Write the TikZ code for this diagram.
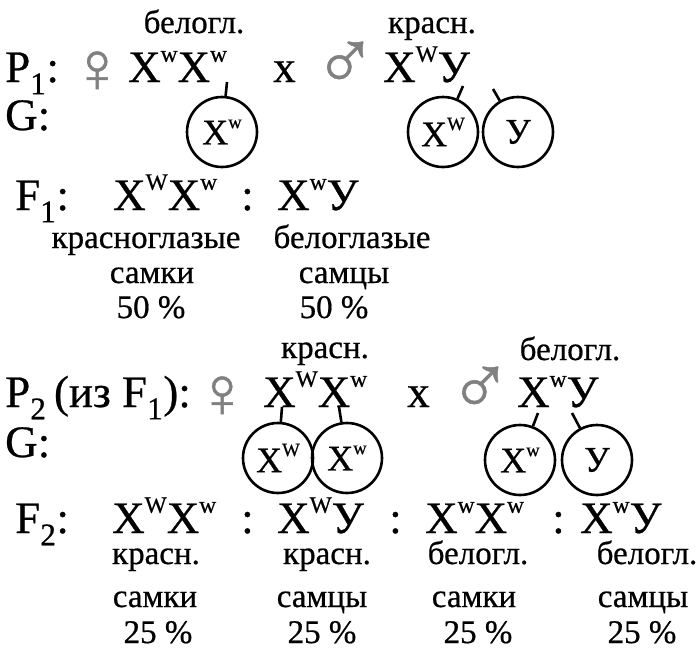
\documentclass[tikz,border=0pt]{standalone}
\usepackage{fontspec}
\setmainfont{Liberation Serif}[FakeBold=0.6]

\newcommand{\gensize}{\fontsize{45}{50}\selectfont}
\newcommand{\lblsize}{\fontsize{33}{36}\selectfont}
\newcommand{\gamsize}{\fontsize{36}{40}\selectfont}
\newcommand{\allele}[1]{\raisebox{0.45em}{\scalebox{0.52}{#1}}}
\newcommand{\XW}{X\allele{W}}
\newcommand{\Xw}{X\allele{w}}
\newcommand{\femsign}{\raisebox{-0.22em}{\scalebox{1.6}{♀}}}
\newcommand{\malsign}{\raisebox{-0.17em}{\scalebox{1.9}{♂}}}

\tikzset{
  gen/.style={anchor=base west, inner sep=0pt, font=\gensize},
  lbl/.style={anchor=base, inner sep=0pt, font=\lblsize},
  sex/.style={anchor=base west, inner sep=0pt, text=black!50, font=\gensize},
  gam/.style={draw, circle, line width=2.6pt, minimum size=70pt, inner sep=0pt, font=\gamsize},
  tick/.style={draw, line width=2.6pt}
}

\begin{document}
\begin{tikzpicture}[x=1pt,y=-1pt]
\useasboundingbox (0,0) rectangle (697,651);

% P1
\node[gen] (p1) at (5,82) {P\textsubscript{1}:};
\node[sex] (fem1) at (70,82) {\femsign};
\node[gen] (p1f) at (128,82) {\Xw\Xw};
\node[gen] (x1) at (273,82) {x};
\node[sex] (mal1) at (313,82) {\malsign};
\node[gen] (p1m) at (383,82) {\XW У};
\node[lbl] (p1fl) at (194,33) {белогл.};
\node[lbl] (p1ml) at (432,33) {красн.};

\node[gen] (g1) at (5,130) {G:};
\node[gam] (c1) at (222,132) {\Xw};
\node[gam] (c2) at (443,132) {\XW};
\node[gam] (c3) at (518,132) {У};
\coordinate (t1) at (227,82);
\coordinate (t2) at (463,86);
\coordinate (t3) at (493,89);
\path[tick] (t1) -- (c1);
\path[tick] (t2) -- (c2);
\path[tick] (t3) -- (c3);

% F1
\node[gen] (f1) at (15,210) {F\textsubscript{1}:};
\node[gen] (f1a) at (113,210) {\XW\Xw};
\node[gen] (f1s) at (241,210) {:};
\node[gen] (f1b) at (277,210) {\Xw У};
\node[lbl] (f1a1) at (146,248) {красноглазые};
\node[lbl] (f1b1) at (352,248) {белоглазые};
\node[lbl] (f1a2) at (152,283) {самки};
\node[lbl] (f1b2) at (344,283) {самцы};
\node[lbl] (f1a3) at (151,318) {50~\%};
\node[lbl] (f1b3) at (334,318) {50~\%};

% P2
\node[gen] (p2) at (5,407) {P\textsubscript{2}\,(из F\textsubscript{1}):};
\node[sex] (fem2) at (195,407) {\femsign};
\node[gen] (p2f) at (263,407) {\XW\Xw};
\node[gen] (x2) at (407,407) {x};
\node[sex] (mal2) at (448,407) {\malsign};
\node[gen] (p2m) at (517,407) {\Xw У};
\node[lbl] (p2fl) at (325,358) {красн.};
\node[lbl] (p2ml) at (570,360) {белогл.};

\node[gen] (g2) at (5,457) {G:};
\node[gam] (c4) at (278,458) {\XW};
\node[gam] (c5) at (347,458) {\Xw};
\node[gam] (c6) at (520,460) {\Xw};
\node[gam] (c7) at (597,460) {У};
\coordinate (t4) at (282,407);
\coordinate (t5) at (339,407);
\coordinate (t6) at (538,413);
\coordinate (t7) at (572,413);
\path[tick] (t4) -- (c4);
\path[tick] (t5) -- (c5);
\path[tick] (t6) -- (c6);
\path[tick] (t7) -- (c7);

% F2
\node[gen] (f2) at (15,533) {F\textsubscript{2}:};
\node[gen] (f2a) at (112,533) {\XW\Xw};
\node[gen] (f2s1) at (241,533) {:};
\node[gen] (f2b) at (277,533) {\XW У};
\node[gen] (f2s2) at (389,533) {:};
\node[gen] (f2c) at (425,533) {\Xw\Xw};
\node[gen] (f2s3) at (552,533) {:};
\node[gen] (f2d) at (580,533) {\Xw У};

\node[lbl] (f2a1) at (156,564) {красн.};
\node[lbl] (f2a2) at (155,607) {самки};
\node[lbl] (f2a3) at (158,643) {25~\%};
\node[lbl] (f2b1) at (327,564) {красн.};
\node[lbl] (f2b2) at (322,607) {самцы};
\node[lbl] (f2b3) at (322,643) {25~\%};
\node[lbl] (f2c1) at (478,564) {белогл.};
\node[lbl] (f2c2) at (474,607) {самки};
\node[lbl] (f2c3) at (478,643) {25~\%};
\node[lbl] (f2d1) at (647,564) {белогл.};
\node[lbl] (f2d2) at (643,607) {самцы};
\node[lbl] (f2d3) at (642,643) {25~\%};
\end{tikzpicture}
\end{document}
